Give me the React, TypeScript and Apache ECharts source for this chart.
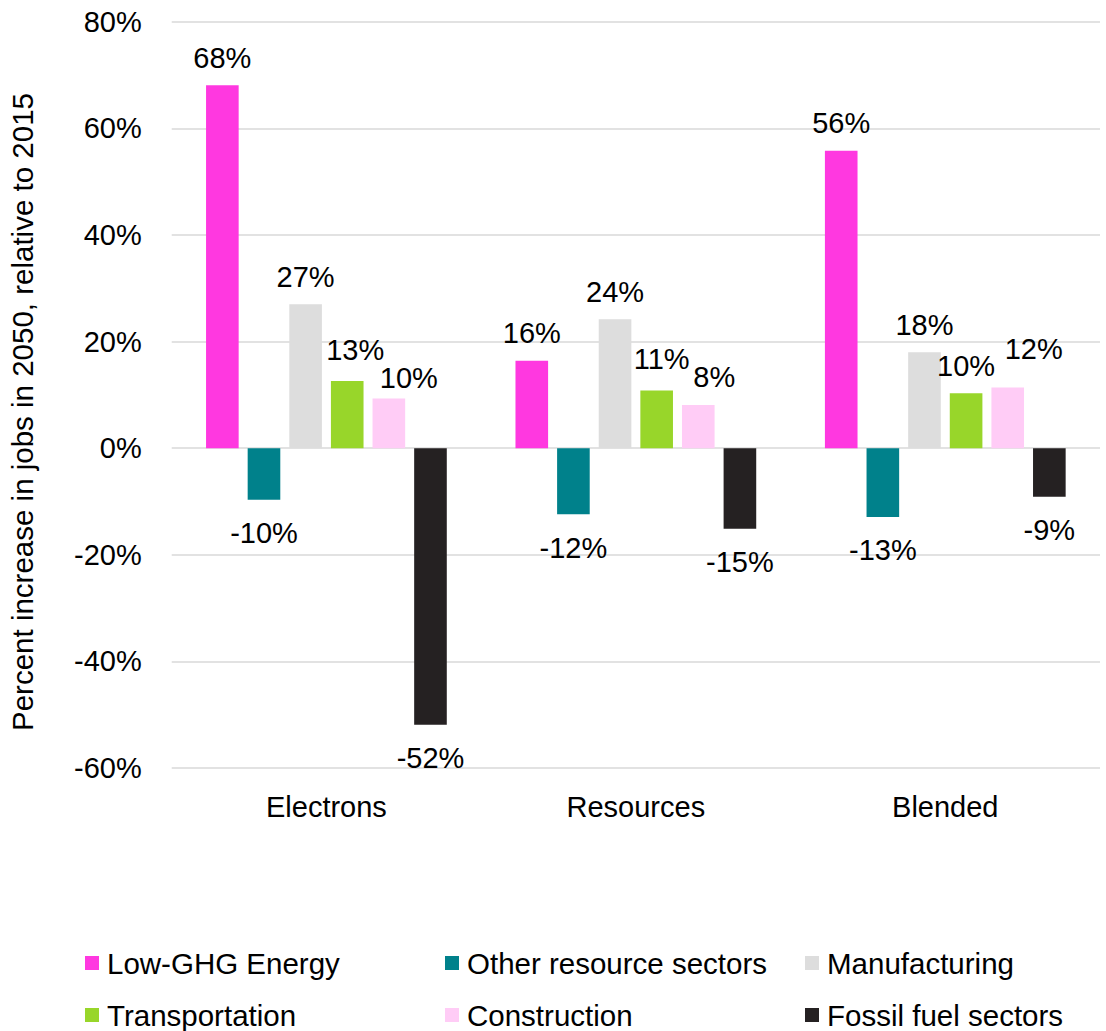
import React, { useEffect, useRef } from "react";
import * as echarts from "echarts";

const categories = ["Electrons", "Resources", "Blended"];
const seriesNames = [
  "Low-GHG Energy",
  "Other resource sectors",
  "Manufacturing",
  "Transportation",
  "Construction",
  "Fossil fuel sectors",
];
const lowGhgEnergy = [68.1, 16.4, 55.8];
const otherResource = [-9.7, -12.4, -12.9];
const manufacturing = [27.0, 24.2, 18.0];
const transportation = [12.6, 10.8, 10.3];
const construction = [9.3, 8.1, 11.4];
const fossilFuel = [-51.9, -15.1, -9.1];

const lowGhgLabels = ["68%", "16%", "56%"];
const otherResourceLabels = ["-10%", "-12%", "-13%"];
const manufacturingLabels = ["27%", "24%", "18%"];
const transportationLabels = ["13%", "11%", "10%"];
const constructionLabels = ["10%", "8%", "12%"];
const fossilFuelLabels = ["-52%", "-15%", "-9%"];

const yTicks = [-60, -40, -20, 0, 20, 40, 60, 80];

const colors = ["#FF38E0", "#00818B", "#DDDDDD", "#98D62A", "#FFCCF6", "#252122"];

// label nudges (Excel-style label placement), keyed by series-category
const labelNudge: Record<string, [number, number]> = {
  "3-0": [8, -3],
  "4-0": [20, 7],
  "3-1": [5, -4],
  "4-1": [16, 0],
  "4-2": [26, -11],
};

const FONT = "'Liberation Sans', Arial, Helvetica, sans-serif";

export default function App() {
  const ref = useRef<HTMLDivElement>(null);
  useEffect(() => {
    if (!ref.current) return;
    const chart = echarts.init(ref.current, null, { renderer: "svg" });
    const values = [lowGhgEnergy, otherResource, manufacturing, transportation, construction, fossilFuel];
    const labels = [lowGhgLabels, otherResourceLabels, manufacturingLabels, transportationLabels, constructionLabels, fossilFuelLabels];

    const series = seriesNames.map((name, si) => ({
      name,
      type: "bar",
      barGap: "27.6%",
      barCategoryGap: "22.2%",
      itemStyle: { color: colors[si] },
      data: values[si].map((v, ci) => {
        const nudge = labelNudge[`${si}-${ci}`] || [0, 0];
        return {
          value: v,
          label: {
            show: true,
            position: v < 0 ? "bottom" : "top",
            distance: v < 0 ? 19 : 13,
            offset: nudge,
            formatter: () => labels[si][ci],
            color: "#000",
            fontSize: 29,
            fontFamily: FONT,
          },
        };
      }),
    }));

    const legendPos = [
      [85, 948],
      [445, 948],
      [805, 948],
      [85, 1000],
      [445, 1000],
      [805, 1000],
    ];
    const legends = seriesNames.map((name, i) => ({
      data: [name],
      left: legendPos[i][0],
      top: legendPos[i][1],
      padding: 0,
      itemWidth: 14,
      itemHeight: 14,
      icon: "rect",
      selectedMode: false,
      textStyle: {
        fontSize: 29.5,
        fontFamily: FONT,
        color: "#000",
        lineHeight: 28,
        padding: [0, 0, 0, 3],
      },
    }));

    chart.setOption({
      animation: false,
      textStyle: { fontFamily: FONT },
      grid: { left: 171.7, right: 6, top: 21.7, height: 746.3, containLabel: false },
      legend: legends,
      xAxis: {
        type: "category",
        data: categories,
        axisLine: { show: false },
        axisTick: { show: false },
        axisLabel: { fontSize: 29, color: "#000", margin: 24, fontFamily: FONT },
      },
      yAxis: {
        type: "value",
        min: yTicks[0],
        max: yTicks[yTicks.length - 1],
        interval: 20,
        axisLine: { show: false },
        axisTick: { show: false },
        axisLabel: { fontSize: 29, color: "#000", margin: 30, formatter: "{value}%", fontFamily: FONT },
        splitLine: { lineStyle: { color: "#D9D9D9", width: 1.5 } },
      },
      graphic: [
        {
          type: "text",
          x: 22,
          y: 412,
          rotation: Math.PI / 2,
          style: {
            text: "Percent increase in jobs in 2050, relative to 2015",
            fontSize: 29.5,
            fontFamily: FONT,
            fill: "#000",
            align: "center",
            verticalAlign: "middle",
          },
        },
      ],
      series,
    });
    return () => chart.dispose();
  }, []);
  return (
    <div
      ref={ref}
      style={{ position: "absolute", left: 0, top: 0, width: 1106, height: 1031 }}
    />
  );
}
